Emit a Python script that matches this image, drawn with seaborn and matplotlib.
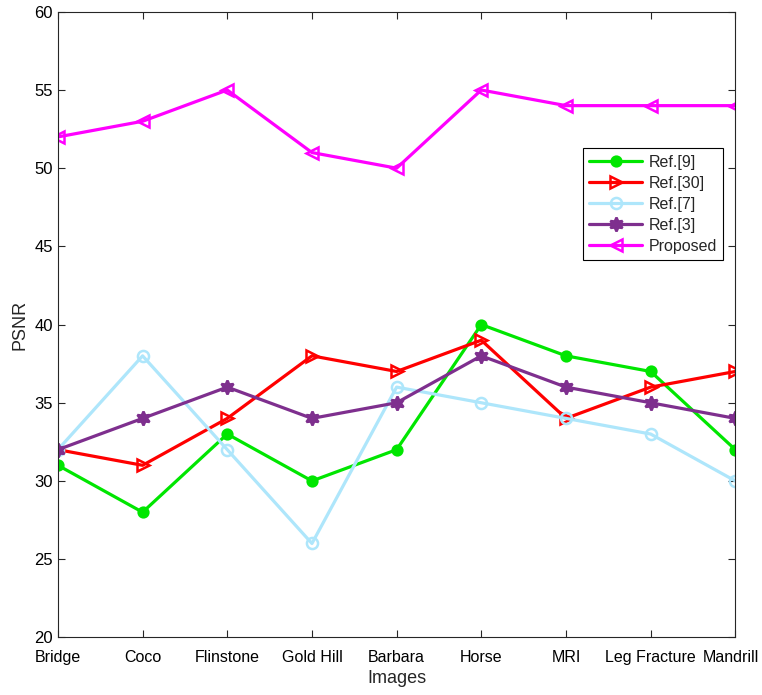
import pandas as pd
import seaborn as sns
import matplotlib.pyplot as plt
import matplotlib.transforms as mtransforms

images = ["Bridge", "Coco", "Flinstone", "Gold Hill", "Barbara", "Horse",
          "MRI", "Leg Fracture", "Mandrill"]
ref9 = [31, 28, 33, 30, 32, 40, 38, 37, 32]
ref30 = [32, 31, 34, 38, 37, 39, 34, 36, 37]
ref7 = [32, 38, 32, 26, 36, 35, 34, 33, 30]
ref3 = [32, 34, 36, 34, 35, 38, 36, 35, 34]
proposed = [52, 53, 55, 51, 50, 55, 54, 54, 54]

sns.set_style("ticks")
plt.rcParams['font.family'] = ['Liberation Sans', 'DejaVu Sans']

fig = plt.figure(figsize=(7.62, 6.95), dpi=100)
ax = fig.add_axes([0.076, 0.083, 0.889, 0.9])

x = list(range(len(images)))
series = [
    ("Ref.[9]", ref9, "#00e600", "o", "#00e600", 7),
    ("Ref.[30]", ref30, "#ff0000", ">", "none", 9),
    ("Ref.[7]", ref7, "#aee6fb", "o", "none", 8),
    ("Ref.[3]", ref3, "#7e2f8e", (6, 1, 0), "#7e2f8e", 10),
    ("Proposed", proposed, "#ff00ff", "<", "none", 9),
]
for name, vals, col, mk, fc, ms in series:
    sns.lineplot(x=x, y=vals, ax=ax, color=col, linewidth=2.3, marker=mk,
                 markersize=ms, markerfacecolor=fc, markeredgecolor=col,
                 markeredgewidth=1.8, label=name)

ax.set_xlim(0, len(images) - 1)
ax.set_ylim(20, 60)
ax.set_xticks(x)
ax.set_xticklabels(images)
ax.set_yticks(range(20, 61, 5))
ax.set_xlabel("Images", fontsize=13, labelpad=4)
ax.set_ylabel("PSNR", fontsize=13)
ax.tick_params(direction="in", top=True, right=True, labelsize=12, length=5,
               color="#262626", labelcolor="black")
ax.tick_params(axis="x", pad=9, labelsize=11.5)
for s in ax.spines.values():
    s.set_visible(True)
    s.set_color("#262626")
    s.set_linewidth(0.8)

# nudge last label inside the figure like the original
last = ax.get_xticklabels()[-1]
last.set_transform(last.get_transform() +
                   mtransforms.ScaledTranslation(-3 / 72, 0, fig.dpi_scale_trans))

leg = ax.legend(loc="upper left", bbox_to_anchor=(0.775, 0.782), fancybox=False,
                edgecolor="black", framealpha=1, fontsize=11.5, handlelength=3.3,
                handletextpad=0.4, borderpad=0.4, labelspacing=0.38,
                borderaxespad=0)
leg.get_frame().set_linewidth(0.8)

fig.savefig("out.png", dpi=100)
